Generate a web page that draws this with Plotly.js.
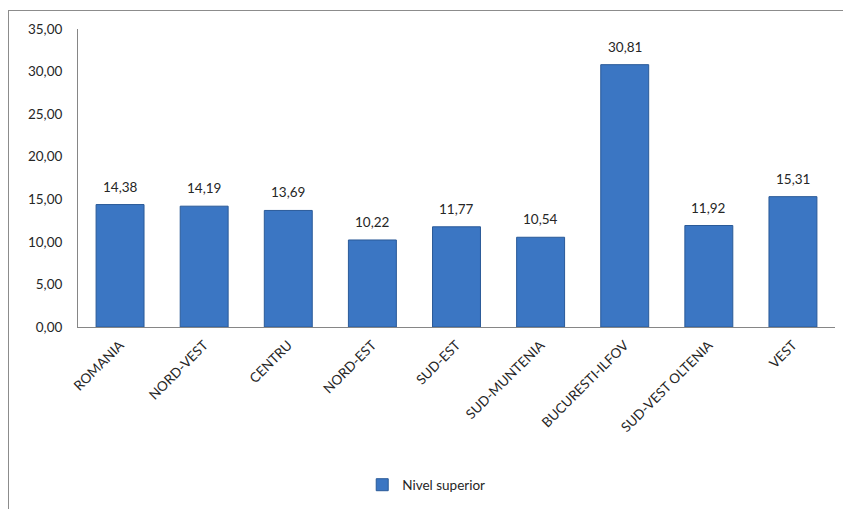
<!DOCTYPE html>
<html>
<head>
<meta charset="utf-8">
<script src="https://cdn.plot.ly/plotly-3.0.1.min.js"></script>
<style>
  html, body { margin:0; padding:0; width:843px; height:509px; overflow:hidden; background:#fff; }
  #frame { position:absolute; left:8px; top:10px; width:900px; height:600px; border:1px solid #8c8c8c; box-sizing:border-box; }
  #chart { position:absolute; left:0; top:0; width:843px; height:509px; }
</style>
</head>
<body>
<div id="frame"></div>
<div id="chart"></div>
<script>
const categories = ["ROMANIA", "NORD-VEST", "CENTRU", "NORD-EST", "SUD-EST", "SUD-MUNTENIA", "BUCURESTI-ILFOV", "SUD-VEST OLTENIA", "VEST"];
const nivelSuperior = [14.38, 14.19, 13.69, 10.22, 11.77, 10.54, 30.81, 11.92, 15.31];
const yTicks = [0, 5, 10, 15, 20, 25, 30, 35];

const fontFam = "Lato, 'Open Sans', 'DejaVu Sans', sans-serif";

const trace = {
  type: "bar",
  name: "Nivel superior",
  x: categories,
  y: nivelSuperior,
  marker: { color: "#3b76c3", line: { color: "#2a5a98", width: 1 } },
  hoverinfo: "skip"
};

const labels = categories.map((c, i) => ({
  x: c, y: nivelSuperior[i], xref: "x", yref: "y",
  text: nivelSuperior[i].toFixed(2).replace(".", ","),
  showarrow: false, yanchor: "bottom", yshift: 8,
  font: { family: fontFam, size: 13.5, color: "#262626" }
}));

const layout = {
  width: 843, height: 509,
  margin: { l: 78, r: 8, t: 29, b: 179 },
  paper_bgcolor: "rgba(0,0,0,0)",
  plot_bgcolor: "rgba(0,0,0,0)",
  separators: ",.",
  bargap: 0.43,
  font: { family: fontFam, size: 13, color: "#262626" },
  annotations: labels,
  xaxis: {
    type: "category",
    tickangle: -45,
    showline: true, linecolor: "#868686", linewidth: 1,
    ticks: "", showgrid: false,
    ticklabelstandoff: 4,
    tickfont: { family: fontFam, size: 13.5, color: "#262626" },
    automargin: false
  },
  yaxis: {
    range: [0, 35],
    tickvals: yTicks,
    tickformat: ".2f",
    showline: true, linecolor: "#868686", linewidth: 1,
    ticks: "", showgrid: false, zeroline: false,
    ticklabelstandoff: 12,
    tickfont: { family: fontFam, size: 13.5, color: "#262626" },
    automargin: false
  },
  showlegend: true,
  legend: {
    orientation: "h",
    x: 0.46, xanchor: "center",
    y: -0.53, yanchor: "middle",
    font: { family: fontFam, size: 13.5, color: "#262626" },
    bgcolor: "rgba(0,0,0,0)"
  }
};

Plotly.newPlot("chart", [trace], layout, { staticPlot: true, displayModeBar: false });
</script>
</body>
</html>
